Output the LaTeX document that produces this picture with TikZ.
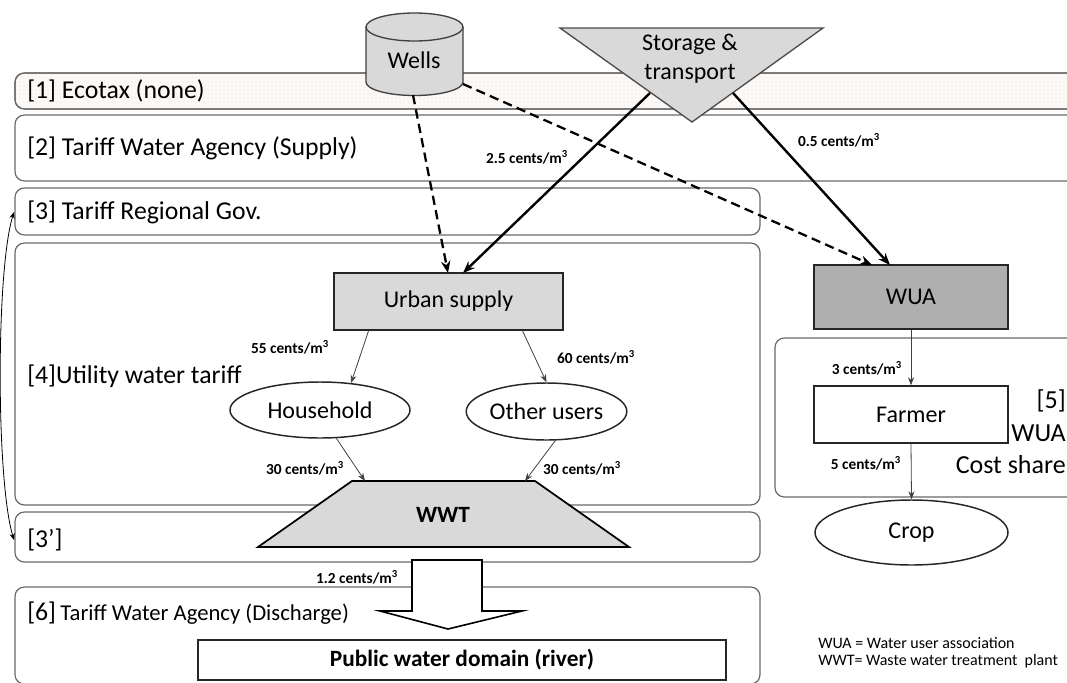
\documentclass[tikz,border=0pt]{standalone}
\usepackage{fontspec}
\setmainfont{Carlito}
\usetikzlibrary{arrows.meta,shapes.geometric,patterns,calc}
\definecolor{lg}{RGB}{217,217,217}
\definecolor{dg}{RGB}{175,175,175}
\definecolor{bandline}{RGB}{105,105,105}
\definecolor{dotfill}{RGB}{252,249,247}
\definecolor{dotcol}{RGB}{236,228,224}
\begin{document}
\begin{tikzpicture}[x=0.75pt,y=-0.75pt,
  band/.style={draw=bandline, line width=0.9pt, rounded corners=7pt},
  lbl/.style={font=\fontsize{19.3}{23}\selectfont, anchor=west, inner sep=0pt},
  nd/.style={font=\fontsize{18}{21}\selectfont, draw=black!85, line width=1.1pt, inner sep=0pt},
  price/.style={font=\bfseries\fontsize{11.5}{13}\selectfont, inner sep=1pt},
  bigarrow/.style={line width=1.8pt, -{Stealth[length=9pt,width=7pt]}},
  dasharrow/.style={line width=1.7pt, dash pattern=on 7pt off 4pt, -{Stealth[length=9pt,width=7pt]}},
  smallarrow/.style={line width=0.6pt, draw=black!75, -{Stealth[length=6pt,width=4.5pt]}},
  legend/.style={font=\fontsize{12}{14}\selectfont, anchor=west, inner sep=0pt}
]
\useasboundingbox (0,0) rectangle (1067,682);
\clip (0,0) rectangle (1067,682);

% bands
\path[band, fill=dotfill] (15,73) rectangle (1090,109);
\path[pattern=dots, pattern color=dotcol, rounded corners=7pt] (16,74) rectangle (1089,108);
\draw[band] (15,73) rectangle (1090,109);
\draw[band] (15,115) rectangle (1090,181);
\draw[band] (15,188) rectangle (760,235);
\draw[band] (15,243) rectangle (760,505);
\draw[band] (15,512) rectangle (760,562);
\draw[band] (15,587) rectangle (760,684);
\draw[band] (775,338) rectangle (1090,497);

% band labels
\node[lbl] (l1) at (27,91) {[1] Ecotax (none)};
\node[lbl] (l2) at (27,148) {[2] Tariff Water Agency (Supply)};
\node[lbl] (l3) at (27,212) {[3] Tariff Regional Gov.};
\node[lbl] (l4) at (27,376) {[4]Utility water tariff};
\node[lbl] (l3p) at (27,540) {[3’]};
\node[lbl] (l6) at (27,613) {[6]\,{\fontsize{17}{20}\selectfont Tariff Water Agency (Discharge)}};
\node[font=\fontsize{19.5}{24.5}\selectfont, align=right, anchor=east, inner sep=0pt] (l5) at (1066,432) {[5]\\WUA\\Cost share};

% curved double arrow
\coordinate (c3) at (14,212);
\coordinate (c3p) at (14,540);
\draw[line width=0.6pt, {Stealth[length=5pt,width=4pt]}-{Stealth[length=5pt,width=4pt]}] (c3) .. controls (-4,270) and (-4,480) .. (c3p);

% Wells cylinder
\fill[lg] (366,27) -- (366,82) arc[start angle=180, end angle=0, x radius=48.5, y radius=13.5] -- (463,27) -- cycle;
\draw[line width=1pt, draw=black!75] (366,27) -- (366,82) arc[start angle=180, end angle=0, x radius=48.5, y radius=13.5] -- (463,27);
\draw[line width=1pt, draw=black!75, fill=lg] (414.5,27) ellipse[x radius=48.5, y radius=14];
\node[font=\fontsize{18}{21}\selectfont] (wells) at (414,60) {Wells};
\coordinate (wellsB) at (413,95);
\coordinate (wellsR) at (463,84);

% Storage triangle
\draw[line width=1pt, draw=black!70, fill=lg] (560,28) -- (823,28) -- (692,122) -- cycle;
\node[font=\fontsize{18}{21.5}\selectfont, align=center] (stor) at (690,59) {Storage \&\\transport};
\coordinate (storL) at (650,93);
\coordinate (storR) at (733,93);

% WWT trapezoid
\draw[line width=1.3pt, fill=lg] (352,481) -- (535,481) -- (629,547) -- (258,547) -- cycle;
\node[font=\bfseries\fontsize{17.5}{20}\selectfont] (wwt) at (443,515) {WWT};
\coordinate (wwtL) at (365,481);
\coordinate (wwtR) at (525,481);

% nodes
\node[nd, fill=lg, minimum width=171.75pt, minimum height=42.75pt] (us) at (448.5,301.5) {Urban supply};
\node[nd, fill=dg, minimum width=145.5pt, minimum height=48pt] (wua) at (911,297) {WUA};
\node[nd, fill=white, minimum width=145.5pt, minimum height=42.75pt] (farmer) at (911,414.5) {Farmer};
\node[nd, ellipse, fill=white, minimum width=144.75pt, minimum height=48.75pt] (crop) at (911.5,532.5) {Crop};
\node[nd, ellipse, fill=white, minimum width=135pt, minimum height=42pt] (hh) at (320,410) {Household};
\node[nd, ellipse, fill=white, minimum width=117.75pt, minimum height=42.75pt] (ou) at (546.5,411.5) {Other users};
\node[nd, fill=white, minimum width=396pt, minimum height=30pt, font=\bfseries\fontsize{17.5}{20}\selectfont] (pub) at (462,660) {Public water domain (river)};

% big block arrow
\draw[line width=1.2pt, fill=white] (412,560) -- (482,560) -- (482,611) -- (522,611) -- (448,629) -- (380,611) -- (412,611) -- cycle;
\node[price] (p12) at (357,577) {1.2 cents/m\textsuperscript{3}};

% supply connectors
\draw[dasharrow] (wellsB) -- (448,273);
\draw[dasharrow] (wellsR) -- (872,265);
\draw[bigarrow] (storL) -- (463,273);
\draw[bigarrow] (storR) -- (890,265);

% distribution connectors
\draw[smallarrow] ($(us.south west)!0.153!(us.south east)$) -- (hh.41);
\draw[smallarrow] ($(us.south west)!0.821!(us.south east)$) -- (ou.north);
\draw[smallarrow] (hh.-60) -- (wwtL);
\draw[smallarrow] (ou.-73) -- (wwtR);
\draw[smallarrow] (wua.south) -- (farmer.north);
\draw[smallarrow] (farmer.south) -- (crop.north);

% price labels
\node[price] (p25) at (527,157) {2.5 cents/m\textsuperscript{3}};
\node[price] (p05) at (839,140) {0.5 cents/m\textsuperscript{3}};
\node[price] (p55) at (290,347) {55 cents/m\textsuperscript{3}};
\node[price] (p60) at (596,357) {60 cents/m\textsuperscript{3}};
\node[price] (p30a) at (305,468) {30 cents/m\textsuperscript{3}};
\node[price] (p30b) at (582,468) {30 cents/m\textsuperscript{3}};
\node[price] (p3) at (867,368) {3 cents/m\textsuperscript{3}};
\node[price] (p5) at (866,463) {5 cents/m\textsuperscript{3}};

% legend
\node[legend] (lg1) at (818,643) {WUA = Water user association};
\node[legend] (lg2) at (818,661) {WWT= Waste water treatment\ \ plant};
\end{tikzpicture}
\end{document}
